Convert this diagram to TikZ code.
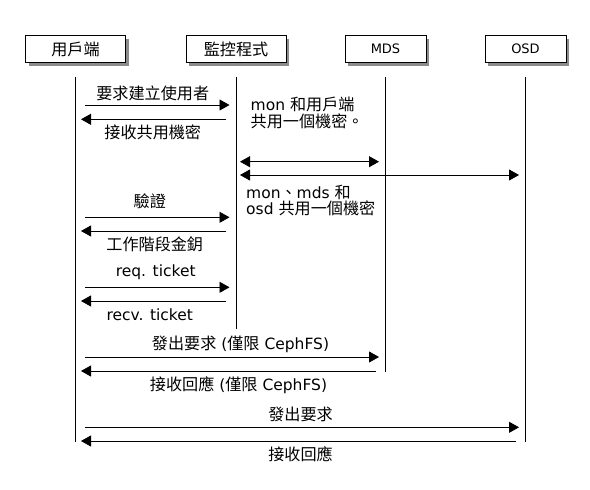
\documentclass[tikz,border=0pt]{standalone}
\usepackage{fontspec}
\setmainfont{DejaVu Sans}
\newfontfamily\cjk[Scale=1.04]{Noto Sans CJK TC}
\newcommand{\zh}[1]{{\cjk #1}}
\usetikzlibrary{arrows.meta,shadows,calc}
\begin{document}
\begin{tikzpicture}[x=1pt,y=-1pt,
  hdr/.style={draw=black,line width=0.8pt,fill=white,minimum height=27pt,inner sep=0pt,
    drop shadow={shadow xshift=3pt,shadow yshift=-3pt,fill=black,opacity=.45}},
  wide/.style={minimum width=100pt,font=\fontsize{15.5}{17}\selectfont},
  narrow/.style={minimum width=81pt,font=\fontsize{13}{15}\selectfont},
  life/.style={line width=0.8pt},
  msgr/.style={line width=0.8pt,-{Triangle[length=10pt,width=11pt]},shorten <=9.5pt,shorten >=6.5pt},
  msgl/.style={line width=0.8pt,-{Triangle[length=10pt,width=11pt]},shorten <=10pt,shorten >=5.5pt},
  msgd/.style={line width=0.8pt,{Triangle[length=10pt,width=11pt]}-{Triangle[length=10pt,width=11pt]},shorten <=4pt,shorten >=6.5pt},
  lbl/.style={font=\fontsize{15.5}{17}\selectfont,inner sep=0pt,anchor=base},
  note/.style={font=\fontsize{15.5}{16.5}\selectfont,inner sep=0pt,anchor=base west,align=left}]
\useasboundingbox (0,0) rectangle (590,490);
\fill[white] (0,0) rectangle (590,490);
% headers
\node[hdr,wide] (h1) at (75.5,49) {\zh{用戶端}};
\node[hdr,wide] (h2) at (236,49) {\zh{監控程式}};
\node[hdr,narrow] (h3) at (385.5,49) {MDS};
\node[hdr,narrow] (h4) at (525.5,49) {OSD};
% lifelines
\coordinate (top) at (0,77);
\coordinate (e1) at (0,441.5);
\coordinate (e2) at (0,329);
\coordinate (e3) at (0,371.5);
\coordinate (e4) at (0,441.5);
\draw[life] (h1|-top) -- (h1|-e1);
\draw[life] (h2|-top) -- (h2|-e2);
\draw[life] (h3|-top) -- (h3|-e3);
\draw[life] (h4|-top) -- (h4|-e4);
% rows
\coordinate (r1) at (0,105);
\coordinate (r2) at (0,119.3);
\coordinate (r3) at (0,161.7);
\coordinate (r4) at (0,175);
\coordinate (r5) at (0,217.3);
\coordinate (r6) at (0,231);
\coordinate (r7) at (0,287.3);
\coordinate (r8) at (0,301);
\coordinate (r9) at (0,357);
\coordinate (r10) at (0,371);
\coordinate (r11) at (0,427.3);
\coordinate (r12) at (0,441);
% messages
\draw[msgr] (h1|-r1) -- node[lbl,yshift=6pt,xshift=-3pt]{\zh{要求建立使用者}} (h2|-r1);
\draw[msgl] (h2|-r2) -- node[lbl,yshift=-19.5pt,xshift=-3pt]{\zh{接收共用機密}} (h1|-r2);
\draw[msgd] (h2|-r3) -- (h3|-r3);
\draw[msgd] (h2|-r4) -- (h4|-r4);
\draw[msgr] (h1|-r5) -- node[lbl,yshift=10pt,xshift=-6pt]{\zh{驗證}} (h2|-r5);
\draw[msgl] (h2|-r6) -- node[lbl,yshift=-19.5pt,xshift=-1pt]{\zh{工作階段金鈅}} (h1|-r6);
\draw[msgr] (h1|-r7) -- node[lbl,yshift=10.5pt]{req. ticket} (h2|-r7);
\draw[msgl] (h2|-r8) -- node[lbl,yshift=-19pt,xshift=-6pt]{recv. ticket} (h1|-r8);
\draw[msgr] (h1|-r9) -- node[lbl,yshift=8pt,xshift=10pt]{\zh{發出要求} (\zh{僅限} CephFS)} (h3|-r9);
\draw[msgl] (h3|-r10) -- node[lbl,yshift=-19.5pt,xshift=8pt]{\zh{接收回應} (\zh{僅限} CephFS)} (h1|-r10);
\draw[msgr] (h1|-r11) -- node[lbl,yshift=7pt]{\zh{發出要求}} (h4|-r11);
\draw[msgl] (h4|-r12) -- node[lbl,yshift=-19.5pt]{\zh{接收回應}} (h1|-r12);
% notes
\node[note] (n1) at (250.5,127) {mon \zh{和用戶端}\\\zh{共用一個機密。}};
\node[note] (n2) at (246,214.5) {mon\zh{、}mds \zh{和}\\osd \zh{共用一個機密}};
\end{tikzpicture}
\end{document}
